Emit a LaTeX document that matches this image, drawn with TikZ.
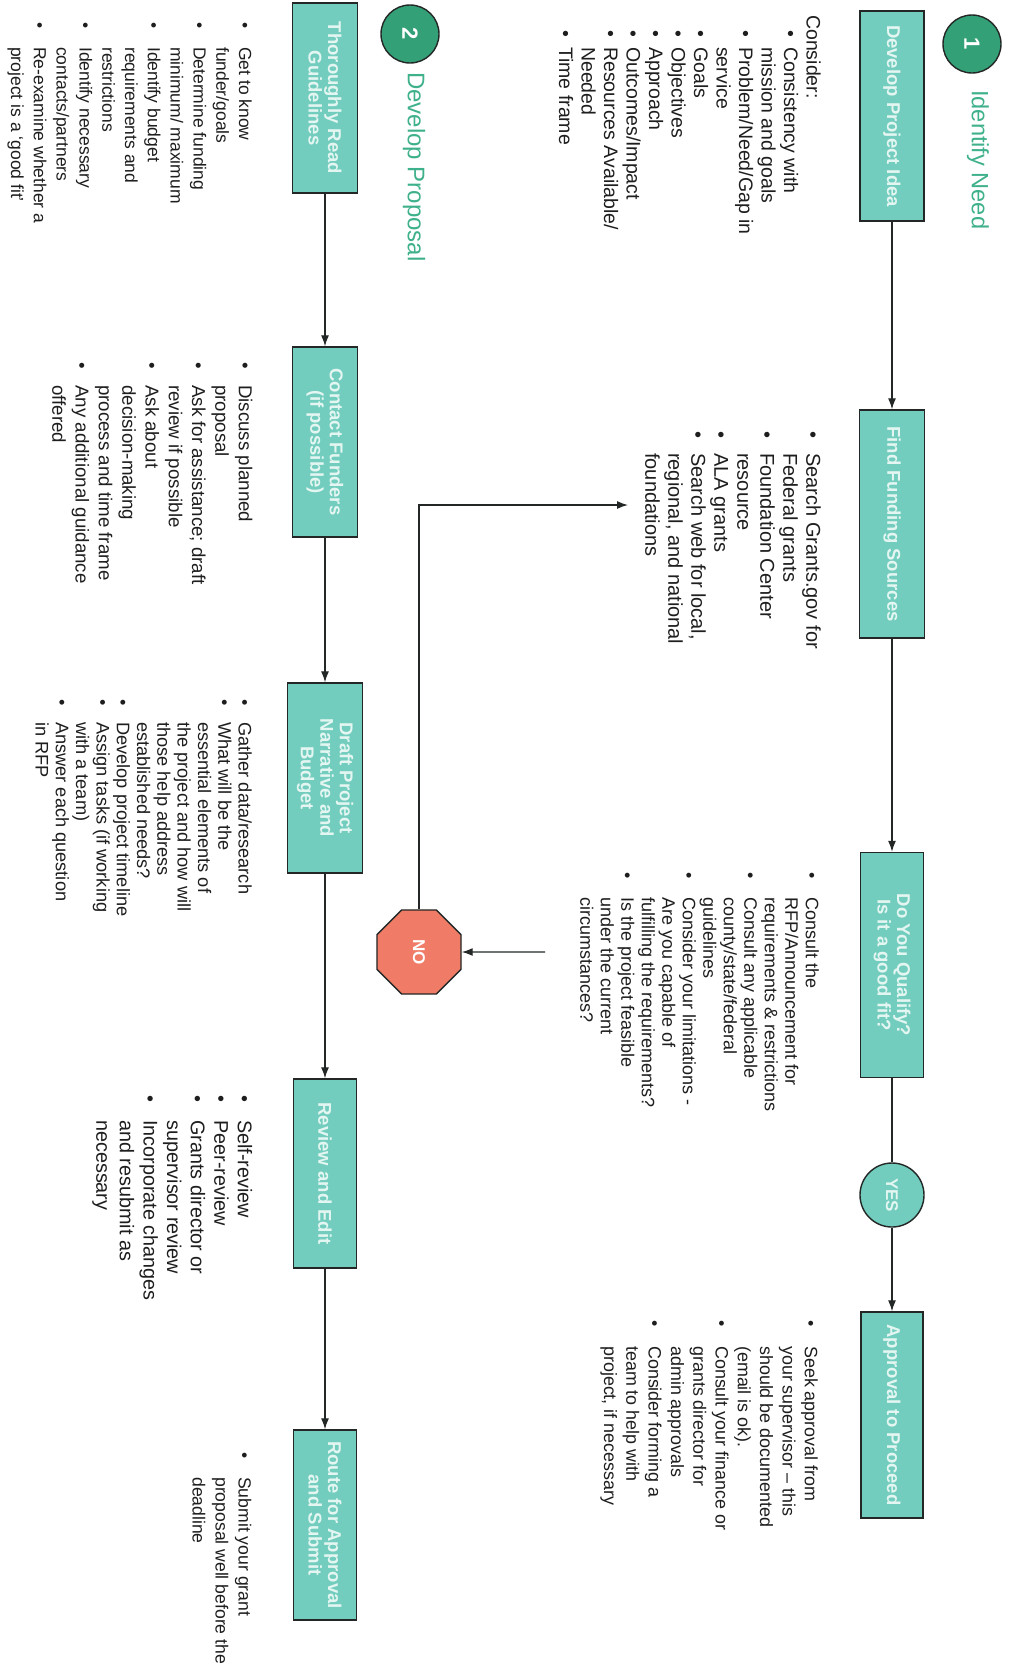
\documentclass[tikz,border=0pt]{standalone}
\usepackage{fontspec}
\setmainfont{Liberation Sans}
\usetikzlibrary{shapes.geometric,arrows.meta}
\definecolor{boxfill}{RGB}{114,205,190}
\definecolor{boxtext}{RGB}{228,246,241}
\definecolor{numgreen}{RGB}{52,160,120}
\definecolor{hdrgreen}{RGB}{62,176,140}
\definecolor{nofill}{RGB}{240,124,104}
\definecolor{linec}{RGB}{35,40,38}
\definecolor{txt}{RGB}{30,30,30}
\newlength\bind \newlength\bwid
\newcommand\itm{\hspace*{\bind}\makebox[\bwid][l]{\textbullet}}
\newcommand\cnt{\hspace*{\bind}\hspace*{\bwid}}
\begin{document}
\begin{tikzpicture}[x=1pt,y=-1pt,
  pbox/.style={draw=linec, line width=1.4pt, fill=boxfill, text=boxtext,
    font=\bfseries\fontsize{18.5}{19.5}\selectfont, align=center, rotate=-90, inner sep=1pt},
  lst/.style={rotate=-90, anchor=north west, align=left, inner sep=0pt, text=txt},
  bl/.style 2 args={execute at begin node={\global\bind=#1pt\global\bwid=#2pt}},
  arr/.style={draw=linec, line width=1.3pt, -{Latex[length=11pt,width=8pt]}},
  ln/.style={draw=linec, line width=1.3pt},
  numc/.style={circle, draw=linec, line width=1.4pt, fill=numgreen, text=white,
    font=\bfseries\fontsize{22}{22}\selectfont, minimum size=58pt, inner sep=0pt, rotate=-90},
  hdr/.style={rotate=-90, anchor=west, text=hdrgreen, inner sep=0pt}
]
\fill[white] (0,0) rectangle (1011,1676);
\useasboundingbox (0,0) rectangle (1011,1676);

% ---------- headers ----------
\node[numc] (c1) at (972,44) {1};
\node[hdr, font=\fontsize{23.6}{23.6}\selectfont] (h1) at (978,90) {Identify Need};
\node[numc] (c2) at (410,34) {2};
\node[hdr, font=\fontsize{24}{24}\selectfont] (h2) at (414,72) {Develop Proposal};

% ---------- column 1 boxes ----------
\node[pbox, minimum width=210pt, minimum height=64pt] (b1) at (892,116) {Develop Project Idea};
\node[pbox, minimum width=228pt, minimum height=65pt] (b2) at (892,524) {Find Funding Sources};
\node[pbox, minimum width=225pt, minimum height=63pt] (b3) at (892,965) {Do You Qualify?\\Is it a good fit?};
\node[circle, draw=linec, line width=1.4pt, fill=boxfill, text=boxtext, rotate=-90,
      font=\bfseries\fontsize{17}{17}\selectfont, minimum size=64pt, inner sep=0pt] (yes) at (892,1195) {YES};
\node[pbox, minimum width=206pt, minimum height=62pt] (b4) at (892,1415) {Approval to Proceed};

% ---------- column 2 boxes ----------
\node[pbox, minimum width=190pt, minimum height=65pt] (t) at (325,98) {Thoroughly Read\\Guidelines};
\node[pbox, minimum width=190pt, minimum height=65pt] (c) at (325,442) {Contact Funders\\(if possible)};
\node[pbox, minimum width=190pt, minimum height=75pt] (d) at (325,778) {Draft Project\\Narrative and\\Budget};
\node[pbox, minimum width=189pt, minimum height=63pt] (r) at (325,1173.5) {Review and Edit};
\node[pbox, minimum width=190pt, minimum height=63pt] (s) at (325,1525) {Route for Approval\\and Submit};

% ---------- NO ----------
\node[regular polygon, regular polygon sides=8, draw=linec, line width=1.4pt, fill=nofill,
      text=white, font=\bfseries\fontsize{17}{17}\selectfont, minimum size=91pt, inner sep=0pt]
      (no) at (419,952) {\rotatebox{-90}{NO}};

% ---------- column 1 lists ----------
\node[lst, bl={15}{17}, font=\fontsize{19.5}{22.5}\selectfont] (n1) at (821,15) {%
Consider:\\
\itm Consistency with\\
\cnt mission and goals\\
\itm Problem/Need/Gap in\\
\cnt service\\
\itm Goals\\
\itm Objectives\\
\itm Approach\\
\itm Outcomes/Impact\\
\itm Resources Available/\\
\cnt Needed\\
\itm Time frame};

\node[lst, bl={0}{21.5}, font=\fontsize{20}{23}\selectfont] (n2) at (821,431.5) {%
\itm Search Grants.gov for\\
\cnt Federal grants\\
\itm Foundation Center\\
\cnt resource\\
\itm ALA grants\\
\itm Search web for local,\\
\cnt regional, and national\\
\cnt foundations};

\node[lst, bl={0}{25}, font=\fontsize{18}{20.5}\selectfont] (n3) at (819,872) {%
\itm Consult the\\
\cnt RFP/Announcement for\\
\cnt requirements \& restrictions\\
\itm Consult any applicable\\
\cnt county/state/federal\\
\cnt guidelines\\
\itm Consider your limitations -\\
\cnt Are you capable of\\
\cnt fulfilling the requirements?\\
\itm Is the project feasible\\
\cnt under the current\\
\cnt circumstances?};

\node[lst, bl={0}{26}, font=\fontsize{17.9}{22.3}\selectfont] (n4) at (818,1320) {%
\itm Seek approval from\\
\cnt your supervisor -- this\\
\cnt should be documented\\
\cnt (email is ok).\\
\itm Consult your finance or\\
\cnt grants director for\\
\cnt admin approvals\\
\itm Consider forming a\\
\cnt team to help with\\
\cnt project, if necessary};

% ---------- column 2 lists ----------
\node[lst, bl={0}{25}, font=\fontsize{17.5}{22.8}\selectfont] (m1) at (252,22) {%
\itm Get to know\\
\cnt funder/goals\\
\itm Determine funding\\
\cnt minimum/ maximum\\
\itm Identify budget\\
\cnt requirements and\\
\cnt restrictions\\
\itm Identify necessary\\
\cnt contacts/partners\\
\itm Re-examine whether a\\
\cnt project is a `good fit'};

\node[lst, bl={0}{23}, font=\fontsize{18.7}{23.3}\selectfont] (m2) at (252.5,362) {%
\itm Discuss planned\\
\cnt proposal\\
\itm Ask for assistance; draft\\
\cnt review if possible\\
\itm Ask about\\
\cnt decision-making\\
\cnt process and time frame\\
\itm Any additional guidance\\
\cnt offered};

\node[lst, bl={0}{23}, font=\fontsize{18.2}{20.3}\selectfont] (m3) at (252,699) {%
\itm Gather data/research\\
\itm What will be the\\
\cnt essential elements of\\
\cnt the project and how will\\
\cnt those help address\\
\cnt established needs?\\
\itm Develop project timeline\\
\itm Assign tasks (if working\\
\cnt with a team)\\
\itm Answer each question\\
\cnt in RFP};

\node[lst, bl={0}{25}, font=\fontsize{19.8}{23.6}\selectfont] (m4) at (252.5,1095) {%
\itm Self-review\\
\itm Peer-review\\
\itm Grants director or\\
\cnt supervisor review\\
\itm Incorporate changes\\
\cnt and resubmit as\\
\cnt necessary};

\node[lst, bl={0}{25}, font=\fontsize{17.6}{23}\selectfont] (m5) at (251.5,1452) {%
\itm Submit your grant\\
\cnt proposal well before the\\
\cnt deadline};

% ---------- connectors ----------
\draw[arr] (b1) -- (b2);
\draw[arr] (b2) -- (b3);
\draw[ln] (b3) -- (yes);
\draw[arr] (yes) -- (b4);
\draw[arr] (t) -- (c);
\draw[arr] (c) -- (d);
\draw[arr] (d) -- (r);
\draw[arr] (r) -- (s);
\coordinate (noin) at (545,952);
\coordinate (noend) at (628,505);
\draw[arr] (noin) -- (no);
\draw[arr] (no) |- (noend);
\end{tikzpicture}
\end{document}
